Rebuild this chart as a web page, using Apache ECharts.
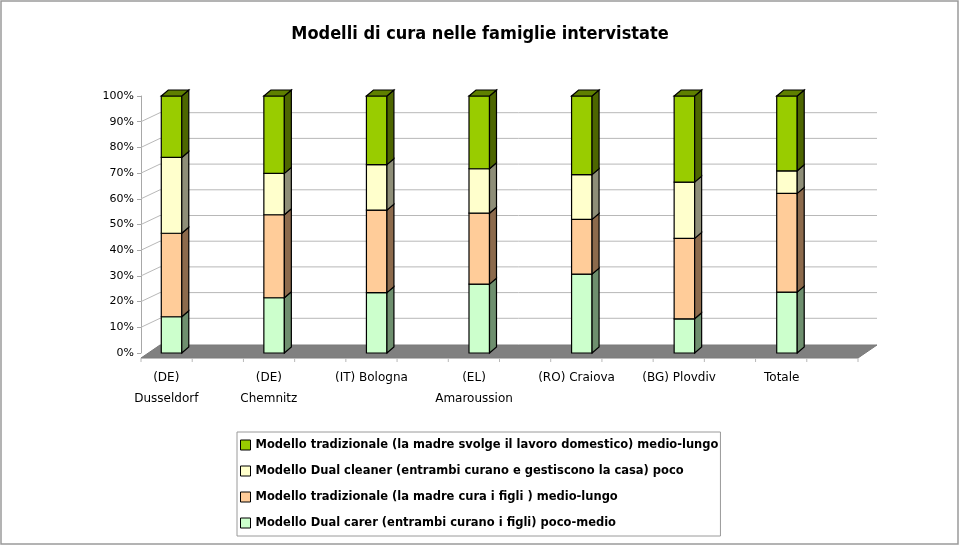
<!DOCTYPE html>
<html>
<head>
<meta charset="utf-8">
<script src="https://cdn.jsdelivr.net/npm/echarts@6/dist/echarts.min.js"></script>
<style>html,body{margin:0;padding:0;background:#fff;}#c{width:960px;height:546px;}</style>
</head>
<body>
<div id="c"></div>
<script>
const categories = ['(DE)\nDusseldorf', '(DE)\nChemnitz', '(IT) Bologna', '(EL)\nAmaroussion', '(RO) Craiova', '(BG) Plovdiv', 'Totale'];
const seriesNames = [
  'Modello Dual carer (entrambi curano i figli) poco-medio',
  'Modello tradizionale (la madre cura i figli ) medio-lungo',
  'Modello Dual cleaner (entrambi curano e gestiscono la casa) poco',
  'Modello tradizionale (la madre svolge il lavoro domestico) medio-lungo'
];
const dualCarer   = [14.1, 21.5, 23.5, 26.8, 30.7, 13.3, 23.7];
const tradFigli   = [32.5, 32.3, 32.1, 27.6, 21.3, 31.3, 38.4];
const dualCleaner = [29.5, 16.1, 17.7, 17.3, 17.4, 21.9, 8.8];
const tradDomest  = [23.9, 30.1, 26.7, 28.3, 30.6, 33.5, 29.1];
const yTicks = [10, 20, 30, 40, 50, 60, 70, 80, 90];

const layers = [dualCarer, tradFigli, dualCleaner, tradDomest];
const frontColors = ['#CCFFCC', '#FFCC99', '#FFFFCC', '#99CC00'];
const sideColors  = ['#6E8F6E', '#8C6A4C', '#8E8E78', '#4D6600'];
const topColor = '#5F8000';

const AXIS_SHIFT = 26;   // y axis sits to the right of the category band start
const DEPTH_X = 19, DEPTH_Y = -9, FLOOR_FRONT = 5, FLOOR_W = 717;
const BAR_W = 20.5, BAR_DX = 7, BAR_DY = -6;

function bgRender(params, api) {
  const cs = params.coordSys;
  const x0 = cs.x + AXIS_SHIFT;
  const y0 = api.coord([0, 0])[1];
  const children = [];
  children.push({
    type: 'polygon',
    shape: { points: [[x0, y0 + FLOOR_FRONT], [x0 + FLOOR_W, y0 + FLOOR_FRONT], [x0 + FLOOR_W + DEPTH_X, y0 + DEPTH_Y + 1], [x0 + DEPTH_X, y0 + DEPTH_Y + 1]] },
    style: { fill: '#808080', stroke: '#7a7a7a', lineWidth: 1 }
  });
  yTicks.forEach(v => {
    const y = api.coord([0, v])[1];
    children.push({ type: 'line', shape: { x1: x0 + DEPTH_X, y1: y + DEPTH_Y, x2: x0 + DEPTH_X + FLOOR_W, y2: y + DEPTH_Y }, style: { stroke: '#b8b8b8', lineWidth: 1 } });
    children.push({ type: 'line', shape: { x1: x0, y1: y, x2: x0 + DEPTH_X, y2: y + DEPTH_Y }, style: { stroke: '#b8b8b8', lineWidth: 1 } });
  });
  for (let k = 0; k <= 14; k++) {
    const x = x0 + k * FLOOR_W / 14;
    children.push({ type: 'line', shape: { x1: x, y1: y0 + FLOOR_FRONT, x2: x, y2: y0 + FLOOR_FRONT + 4 }, style: { stroke: '#b8b8b8', lineWidth: 1 } });
  }
  return { type: 'group', children };
}

function makeBarRender(li) {
  return function (params, api) {
    const idx = api.value(0);
    const base = api.value(1);
    const val = api.value(2);
    const pb = api.coord([idx, base]);
    const yTop = api.coord([idx, base + val])[1];
    const yBase = pb[1];
    const xl = pb[0] - 5;
    const xr = xl + BAR_W;
    const children = [
      { type: 'rect', shape: { x: xl, y: yTop, width: BAR_W, height: yBase - yTop }, style: { fill: frontColors[li], stroke: '#000', lineWidth: 1.2 } },
      { type: 'polygon', shape: { points: [[xr, yBase], [xr + BAR_DX, yBase + BAR_DY], [xr + BAR_DX, yTop + BAR_DY], [xr, yTop]] }, style: { fill: sideColors[li], stroke: '#000', lineWidth: 1.2 } }
    ];
    if (li === layers.length - 1) {
      children.push({ type: 'polygon', shape: { points: [[xl, yTop], [xl + BAR_DX, yTop + BAR_DY], [xr + BAR_DX, yTop + BAR_DY], [xr, yTop]] }, style: { fill: topColor, stroke: '#000', lineWidth: 1.2 } });
    }
    return { type: 'group', children };
  };
}

const barSeries = layers.map((arr, li) => ({
  type: 'custom',
  name: seriesNames[li],
  renderItem: makeBarRender(li),
  clip: false,
  z: 3,
  itemStyle: { color: frontColors[li] },
  encode: { x: 0, y: 2 },
  data: arr.map((v, i) => {
    let base = 0;
    for (let j = 0; j < li; j++) base += layers[j][i];
    return [i, base, v];
  })
}));

const chart = echarts.init(document.getElementById('c'));
chart.setOption({
  backgroundColor: '#fff',
  animation: false,
  title: {
    text: 'Modelli di cura nelle famiglie intervistate',
    left: 'center',
    top: 20,
    textStyle: { fontFamily: "'DejaVu Sans Condensed', 'DejaVu Sans', sans-serif", fontWeight: 'bold', fontSize: 18, color: '#000' }
  },
  graphic: [{
    type: 'rect', silent: true, z: -1,
    shape: { x: 1, y: 1, width: 957, height: 543 },
    style: { fill: 'none', stroke: '#9a9a9a', lineWidth: 1.5 }
  }],
  legend: {
    orient: 'vertical',
    left: 237,
    top: 432,
    icon: 'rect',
    itemWidth: 10,
    itemHeight: 10,
    itemGap: 12,
    padding: [6, 2, 6, 3],
    borderColor: '#9a9a9a',
    borderWidth: 1,
    itemStyle: { borderColor: '#000', borderWidth: 1 },
    textStyle: { fontFamily: "'DejaVu Sans', sans-serif", fontSize: 11.5, fontWeight: 'bold', color: '#000', lineHeight: 14 },
    data: [seriesNames[3], seriesNames[2], seriesNames[1], seriesNames[0]]
  },
  grid: { left: 115, right: 127, top: 96, bottom: 193 },
  xAxis: {
    type: 'category',
    data: categories,
    axisLine: { show: false },
    axisTick: { show: false },
    axisLabel: { interval: 0, color: '#000', fontFamily: "'DejaVu Sans', sans-serif", fontSize: 12, lineHeight: 21, margin: 14 }
  },
  yAxis: {
    type: 'value',
    min: 0, max: 100, interval: 10,
    offset: -AXIS_SHIFT,
    axisLine: { show: true, lineStyle: { color: '#a8a8a8' } },
    axisTick: { show: true, length: 4, lineStyle: { color: '#a8a8a8' } },
    splitLine: { show: false },
    axisLabel: { formatter: '{value}%', color: '#000', fontFamily: "'DejaVu Sans', sans-serif", fontSize: 11, margin: 7 }
  },
  series: [{
    type: 'custom',
    renderItem: bgRender,
    clip: false,
    silent: true,
    z: 1,
    data: [[0, 0]],
    encode: { x: 0, y: 1 }
  }].concat(barSeries)
});
</script>
</body>
</html>
